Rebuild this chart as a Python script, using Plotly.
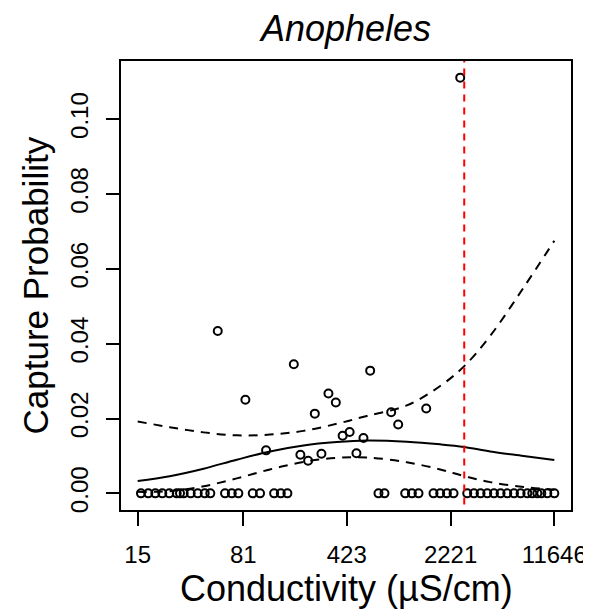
import plotly.graph_objects as go
import math

# ---- data ----
# observed capture probabilities (conductivity in µS/cm)
obs_cond = [53.9, 83.8, 181.6, 116.6, 254, 315.7, 355.3, 201.7, 228.2, 282.3,
            396.0, 443, 493.9, 552.4, 614.9, 860, 961.8, 1505, 2591]
obs_prob = [0.0434, 0.0250, 0.0345, 0.0115, 0.0213, 0.0267, 0.0243, 0.0103, 0.0087, 0.0106,
            0.0154, 0.0164, 0.0107, 0.0148, 0.0328, 0.0217, 0.0184, 0.0227, 0.1111]

zero_cond = [15.81, 17.77, 19.88, 22.23, 24.86, 27.98, 29.50, 31.29, 34.99, 39.14,
             43.77, 47.87, 60.55, 67.42, 74.90, 94.28, 105.9, 132.6, 147.5, 163.9,
             702.1, 772.7, 1075.7, 1197.4, 1330.5, 1691, 1882, 2095, 2328,
             2898, 3226, 3584, 3990, 4442, 4935, 5494, 6114, 6795, 7562,
             8193, 8873, 9459, 10411, 11646]
zero_prob = [0.0] * len(zero_cond)

# fitted curve and confidence band
curve_cond = [15, 25, 43, 73, 124, 212, 361, 583, 1105, 1882, 2762, 4185, 7129, 11646]
fit_prob = [0.0033, 0.0046, 0.0066, 0.0090, 0.0112, 0.0128, 0.0137, 0.0141, 0.0138,
            0.0131, 0.0124, 0.0112, 0.0100, 0.0089]
upper_prob = [0.0192, 0.0177, 0.0163, 0.0155, 0.0157, 0.0167, 0.0186, 0.0207, 0.0235,
              0.0287, 0.0340, 0.0421, 0.0550, 0.0675]
lower_prob = [0.0004, 0.0006, 0.0019, 0.0040, 0.0064, 0.0084, 0.0095, 0.0096, 0.0083,
              0.0064, 0.0046, 0.0030, 0.0017, 0.0010]

threshold = 2762

x_ticks = [15, 81, 423, 2221, 11646]
x_tick_labels = ["15", "81", "423", "2221", "11646"]
y_ticks = [0.00, 0.02, 0.04, 0.06, 0.08, 0.10]
y_tick_labels = ["0.00", "0.02", "0.04", "0.06", "0.08", "0.10"]

title_text = "Anopheles"
x_title = "Conductivity (µS/cm)"
y_title = "Capture Probability"

# ---- figure ----
FONT = "Liberation Sans, Arial, sans-serif"
all_x = obs_cond + zero_cond + curve_cond
xmin, xmax = math.log10(min(all_x)), math.log10(max(all_x))
xpad = 0.04 * (xmax - xmin)
all_y = obs_prob + zero_prob
ymin, ymax = min(all_y), max(all_y)
ypad = 0.04 * (ymax - ymin)

fig = go.Figure()

marker = dict(symbol="circle-open", size=8, color="black", line=dict(width=2, color="black"))
fig.add_trace(go.Scatter(x=zero_cond, y=zero_prob, mode="markers", marker=marker,
                         showlegend=False, cliponaxis=False))
fig.add_trace(go.Scatter(x=obs_cond, y=obs_prob, mode="markers", marker=marker,
                         showlegend=False, cliponaxis=False))

fig.add_trace(go.Scatter(x=curve_cond, y=fit_prob, mode="lines",
                         line=dict(color="black", width=2, shape="spline", smoothing=1.0),
                         showlegend=False))
for yy in (upper_prob, lower_prob):
    fig.add_trace(go.Scatter(x=curve_cond, y=yy, mode="lines",
                             line=dict(color="black", width=2, dash="9px,7px",
                                       shape="spline", smoothing=1.0),
                             showlegend=False))

fig.add_trace(go.Scatter(x=[threshold, threshold], y=[-1, 1], mode="lines",
                         line=dict(color="#FF0000", width=2, dash="7px,6px"),
                         showlegend=False))

# page body has an 8px margin, so the figure is sized to fit the window
fig.update_layout(
    width=583, height=602,
    margin=dict(l=113, r=20, t=53, b=100),
    paper_bgcolor="white", plot_bgcolor="white",
    font=dict(family=FONT, color="black"),
    title=dict(text=title_text, x=0.5, xref="paper", xanchor="center",
               y=1, yref="container", yanchor="top", pad=dict(t=8),
               font=dict(family=FONT, size=36, style="italic", color="black")),
    xaxis=dict(type="log", range=[xmin - xpad, xmax + xpad], automargin=False,
               tickvals=x_ticks, ticktext=x_tick_labels,
               showgrid=False, zeroline=False,
               showline=True, mirror=True, linecolor="black", linewidth=2,
               ticks="outside", ticklen=14, tickwidth=2, tickcolor="black",
               tickfont=dict(family=FONT, size=24, color="black"),
               ticklabelstandoff=8),
    yaxis=dict(range=[ymin - ypad, ymax + ypad], automargin=False,
               tickvals=y_ticks, ticktext=y_tick_labels, tickangle=-90,
               showgrid=False, zeroline=False,
               showline=True, mirror=True, linecolor="black", linewidth=2,
               ticks="outside", ticklen=13, tickwidth=2, tickcolor="black",
               tickfont=dict(family=FONT, size=24, color="black"),
               ticklabelstandoff=8),
    annotations=[
        dict(text=x_title, x=0.5, xref="paper", y=0, yref="paper",
             xanchor="center", yanchor="middle", yshift=-78, showarrow=False,
             font=dict(family=FONT, size=36, color="black")),
        dict(text=y_title, x=0, xref="paper", y=0.5, yref="paper",
             xanchor="center", yanchor="middle", xshift=-86, textangle=-90,
             showarrow=False, font=dict(family=FONT, size=35, color="black")),
    ],
)

fig.write_html("out.html")
